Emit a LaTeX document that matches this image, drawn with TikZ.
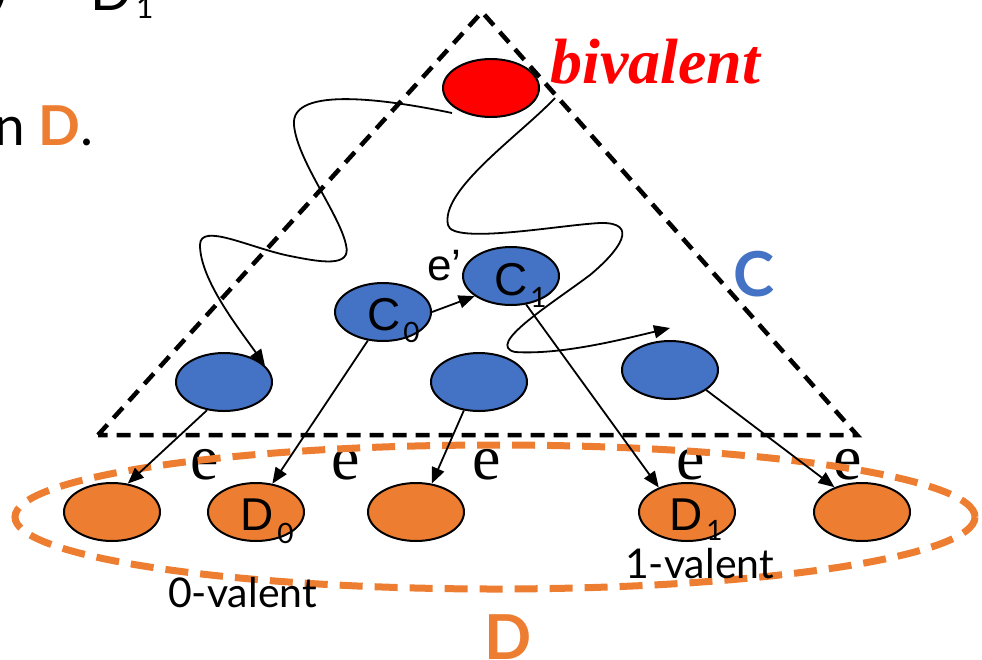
\documentclass[tikz,border=0pt]{standalone}
\usepackage{fontspec}
\setmainfont{Liberation Serif}
\setsansfont{Liberation Sans}
\newfontfamily\gill{Lato}
\usetikzlibrary{arrows.meta,shapes.geometric}
\definecolor{cblue}{HTML}{4472C4}
\definecolor{corange}{HTML}{ED7D31}
\definecolor{cred}{HTML}{FF0000}
\newcommand{\fs}[1]{\fontsize{#1}{#1}\selectfont}
\begin{document}
\begin{tikzpicture}[x=1pt,y=-1pt,
  conf/.style={ellipse, draw=black, line width=2pt, minimum width=96pt, minimum height=58pt, inner sep=0pt},
  bconf/.style={conf, fill=cblue},
  oconf/.style={conf, fill=corange},
  arr/.style={line width=1.8pt, -{Triangle[length=16pt,width=13pt]}},
  wave/.style={line width=1.8pt},
  lab/.style={inner sep=0pt, anchor=base west, font=\sffamily\fs{46}},
  elab/.style={inner sep=0pt, anchor=base, font=\rmfamily\fs{64}},
  gtext/.style={inner sep=0pt, anchor=base west, font=\gill\fs{41}},
  tri/.style={line width=4.5pt, dash pattern=on 14pt off 9pt},
  dset/.style={draw=corange, line width=7pt, dash pattern=on 23pt off 12pt}
]
\useasboundingbox (0,0) rectangle (982,659);

% cut-off text at top left
\node[inner sep=0pt, anchor=base east, font=\gill\fs{50}] (paren) at (8,4) {)};
\node[inner sep=0pt, anchor=base west, font=\gill\fs{55}] (dtop) at (90,10) {D};
\node[inner sep=0pt, anchor=base west, font=\gill\fs{30}] (onetop) at (136,18) {1};
\node[inner sep=0pt, anchor=base east, font=\gill\fs{55}] (inD) at (94,145) {n {\color{corange}\bfseries D}.};

% configurations
\node[conf, fill=cred] (red) at (491,88) {};
\node[bconf] (c1) at (511,276) {};
\node[bconf] (c0) at (383,312) {};
\node[bconf] (cm) at (479,382) {};
\node[bconf] (lb) at (224,382) {};
\node[bconf] (rb) at (670,370) {};
\node[oconf] (o1) at (112,512) {};
\node[oconf] (d0) at (256,512) {};
\node[oconf] (o3) at (416,512) {};
\node[oconf] (d1) at (687,512) {};
\node[oconf] (o5) at (862,512) {};

% triangle C
\draw[tri] (98,435) -- (482,12) -- (857,435) -- cycle;

% labels inside
\node[lab] (c0lab) at (367,330) {C\kern3pt\raisebox{-12pt}{\gill\fs{28}0}};
\node[lab] (c1lab) at (494,295) {C\kern3pt\raisebox{-12pt}{\gill\fs{28}1}};
\node[lab] (d0lab) at (240,530) {D\kern4pt\raisebox{-13pt}{\gill\fs{28}0}};
\node[lab] (d1lab) at (669,530) {D\kern4pt\raisebox{-10pt}{\gill\fs{28}1}};
\node[lab, font=\sffamily\fs{44}] (eprime) at (427,280) {e’};

% e labels
\node[elab] (e1) at (205,479) {e};
\node[elab] (e2) at (346,479) {e};
\node[elab] (e3) at (487,479) {e};
\node[elab] (e4) at (691,479) {e};
\node[elab] (e5) at (848,479) {e};

% set D
\draw[dset] (495,517) ellipse [x radius=480pt, y radius=72pt];

% other texts
\node[inner sep=0pt, anchor=base west, text=cred, font=\rmfamily\bfseries\itshape\fs{64}] (biv) at (550,83) {bivalent};
\node[inner sep=0pt, anchor=base west, text=cblue, font=\gill\bfseries\fs{62}] (Clab) at (733,296) {C};
\node[inner sep=0pt, anchor=base west, text=corange, font=\gill\bfseries\fs{62}] (Dlab) at (484,659) {D};
\node[gtext] (zv) at (168,607) {0-valent};
\node[gtext] (ov) at (625,578) {1-valent};

% straight arrows
\draw[arr] (c0.east) -- (c1.209);
\draw[arr] (lb.239) -- (o1.61);
\draw[arr] (c0.242) -- (d0.60);
\draw[arr] (cm.242) -- (o3.61);
\draw[arr] (c1.298) -- (d1.139);
\draw[arr] (rb.331) -- (o5.138);

% wavy executions
\coordinate (a0) at (452,113);
\draw[wave, arr] (a0) .. controls (390,100) and (290,85) .. (294,125)
  .. controls (297,160) and (340,215) .. (346,245)
  .. controls (352,268) and (320,262) .. (290,256)
  .. controls (250,248) and (200,222) .. (200,245)
  .. controls (200,280) and (240,330) .. (lb.22);
\coordinate (b0) at (555,98);
\coordinate (b1) at (670,328);
\draw[wave, arr] (b0) .. controls (520,135) and (440,190) .. (448,225)
  .. controls (452,245) and (560,225) .. (600,223)
  .. controls (640,222) and (620,250) .. (590,275)
  .. controls (550,305) and (485,345) .. (515,352)
  .. controls (560,355) and (620,340) .. (b1);
\end{tikzpicture}
\end{document}
